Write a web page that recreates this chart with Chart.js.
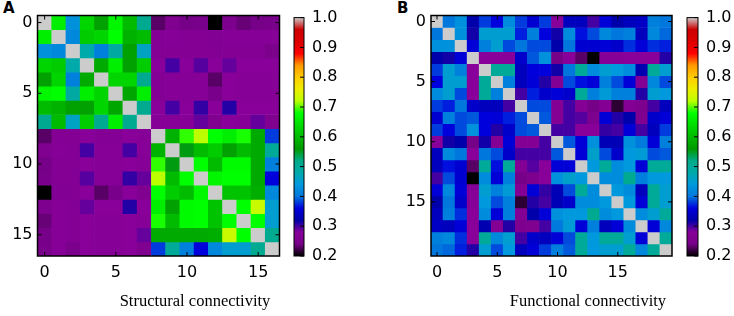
<!DOCTYPE html>
<html>
<head>
<meta charset="utf-8">
<script src="https://cdn.jsdelivr.net/npm/chart.js@4.4.1/dist/chart.umd.min.js"></script>
<style>
  body { margin: 0; background: #fff; }
  #wrap { position: relative; width: 734px; height: 316px; overflow: hidden; }
  canvas { position: absolute; top: 0; }
  .panel { position: absolute; font-family: 'DejaVu Sans', sans-serif; font-weight: bold; font-size: 15px; line-height: 1; }
  .cap { position: absolute; top: 293px; width: 300px; text-align: center; font-family: 'Liberation Serif', serif; font-size: 16.5px; line-height: 1; }
</style>
</head>
<body>
<div id="wrap">
  <div class="panel" style="left:3px;top:1px">A</div>
  <div class="panel" style="left:397px;top:1px">B</div>
  <canvas id="heatA" width="290" height="300" style="left:0px"></canvas>
  <canvas id="barA" width="70" height="300" style="left:280px"></canvas>
  <canvas id="heatB" width="290" height="300" style="left:390px"></canvas>
  <canvas id="barB" width="61" height="300" style="left:673px"></canvas>
  <div class="cap" style="left:45px">Structural connectivity</div>
  <div class="cap" style="left:438px">Functional connectivity</div>
</div>
<script>
// structural connectivity, 17 regions
const structural = [
  [1.00,0.66,0.43,0.63,0.57,0.67,0.60,0.51,0.23,0.26,0.24,0.245,0.20,0.255,0.235,0.24,0.245],
  [0.66,1.00,0.42,0.62,0.63,0.68,0.59,0.60,0.27,0.275,0.27,0.27,0.265,0.275,0.275,0.275,0.275],
  [0.43,0.42,1.00,0.48,0.41,0.49,0.57,0.46,0.27,0.27,0.27,0.27,0.27,0.27,0.27,0.27,0.25],
  [0.63,0.62,0.48,1.00,0.58,0.66,0.57,0.62,0.28,0.30,0.28,0.295,0.28,0.29,0.28,0.28,0.28],
  [0.57,0.63,0.41,0.58,1.00,0.63,0.63,0.51,0.27,0.275,0.275,0.275,0.23,0.28,0.275,0.275,0.275],
  [0.67,0.68,0.49,0.66,0.63,1.00,0.575,0.66,0.27,0.275,0.275,0.275,0.245,0.28,0.275,0.275,0.275],
  [0.60,0.59,0.57,0.57,0.63,0.575,1.00,0.51,0.28,0.30,0.28,0.305,0.28,0.31,0.28,0.28,0.28],
  [0.51,0.60,0.46,0.62,0.51,0.66,0.51,1.00,0.275,0.275,0.275,0.29,0.26,0.28,0.275,0.29,0.26],
  [0.23,0.27,0.27,0.28,0.27,0.27,0.28,0.275,1.00,0.59,0.69,0.72,0.68,0.66,0.685,0.58,0.38],
  [0.26,0.275,0.27,0.30,0.275,0.275,0.30,0.275,0.59,1.00,0.555,0.60,0.62,0.57,0.60,0.58,0.50],
  [0.24,0.27,0.27,0.28,0.275,0.275,0.28,0.275,0.69,0.555,1.00,0.68,0.60,0.675,0.675,0.58,0.41],
  [0.245,0.27,0.27,0.295,0.275,0.275,0.305,0.29,0.72,0.60,0.68,1.00,0.67,0.68,0.68,0.58,0.36],
  [0.20,0.265,0.27,0.28,0.23,0.245,0.28,0.26,0.68,0.62,0.60,0.67,1.00,0.61,0.61,0.585,0.42],
  [0.255,0.275,0.27,0.29,0.28,0.28,0.31,0.28,0.66,0.57,0.675,0.68,0.61,1.00,0.68,0.73,0.45],
  [0.235,0.275,0.27,0.28,0.275,0.275,0.28,0.275,0.685,0.60,0.675,0.68,0.61,0.68,1.00,0.68,0.45],
  [0.24,0.275,0.27,0.28,0.275,0.275,0.28,0.29,0.58,0.58,0.58,0.58,0.585,0.73,0.68,1.00,0.51],
  [0.245,0.275,0.25,0.28,0.275,0.275,0.28,0.26,0.38,0.50,0.41,0.36,0.42,0.45,0.45,0.51,1.00]
];

// functional connectivity, 20 regions
const functional = [
  [1.00,.40,.43,.32,.38,.36,.425,.38,.35,.38,.28,.335,.335,.30,.355,.32,.335,.34,.41,.40],
  [.40,1.00,.43,.315,.45,.45,.45,.37,.41,.36,.315,.425,.365,.385,.42,.40,.41,.335,.42,.395],
  [.43,.43,1.00,.355,.41,.45,.385,.40,.385,.385,.32,.40,.35,.35,.355,.345,.375,.355,.375,.37],
  [.32,.315,.355,1.00,.28,.28,.28,.345,.39,.43,.24,.28,.23,.20,.275,.275,.28,.28,.28,.31],
  [.38,.45,.41,.28,1.00,.50,.50,.335,.36,.36,.315,.40,.50,.425,.45,.44,.425,.325,.50,.45],
  [.36,.45,.45,.28,.50,1.00,.41,.335,.355,.31,.27,.385,.365,.355,.41,.385,.355,.27,.42,.385],
  [.425,.45,.385,.28,.50,.41,1.00,.30,.37,.345,.355,.345,.50,.41,.445,.41,.41,.31,.45,.44],
  [.38,.37,.40,.345,.335,.335,.30,1.00,.385,.385,.27,.30,.27,.24,.27,.215,.27,.255,.30,.335],
  [.35,.41,.385,.39,.36,.355,.37,.385,1.00,.39,.27,.30,.295,.255,.355,.31,.32,.26,.345,.355],
  [.38,.36,.385,.43,.36,.31,.345,.385,.39,1.00,.30,.30,.28,.28,.305,.30,.355,.30,.335,.38],
  [.28,.315,.32,.24,.315,.27,.355,.27,.27,.30,1.00,.39,.355,.43,.33,.33,.43,.405,.355,.41],
  [.335,.425,.40,.28,.40,.385,.345,.30,.30,.30,.39,1.00,.355,.455,.385,.345,.44,.445,.385,.39],
  [.335,.365,.35,.23,.50,.365,.50,.27,.295,.28,.355,.355,1.00,.44,.50,.425,.44,.355,.50,.50],
  [.30,.385,.35,.20,.425,.355,.41,.24,.255,.28,.43,.455,.44,1.00,.425,.425,.51,.41,.44,.44],
  [.355,.42,.355,.275,.45,.41,.445,.27,.355,.305,.33,.385,.50,.425,1.00,.44,.425,.335,.50,.45],
  [.32,.40,.345,.275,.44,.385,.41,.215,.31,.30,.33,.345,.425,.425,.44,1.00,.44,.355,.50,.45],
  [.335,.41,.375,.28,.425,.355,.41,.27,.32,.355,.43,.44,.44,.51,.425,.44,1.00,.425,.45,.50],
  [.34,.335,.355,.28,.325,.27,.31,.255,.26,.30,.405,.445,.355,.41,.335,.355,.425,1.00,.355,.42],
  [.41,.42,.375,.28,.50,.42,.45,.30,.345,.335,.355,.385,.50,.44,.50,.50,.45,.355,1.00,.50],
  [.40,.395,.37,.31,.45,.385,.44,.335,.355,.38,.41,.39,.50,.44,.45,.45,.50,.42,.50,1.00]
];

const axisTicks = [0, 5, 10, 15];
const colorbarTicks = [0.2, 0.3, 0.4, 0.5, 0.6, 0.7, 0.8, 0.9, 1.0];
const vmin = 0.2, vmax = 1.0;

// matplotlib nipy_spectral: [position, r, g, b]
const spectralStops = [
  [0.00,0.0,0.0,0.0],[0.05,0.4667,0.0,0.5333],[0.10,0.5333,0.0,0.6],[0.15,0.0,0.0,0.6667],
  [0.20,0.0,0.0,0.8667],[0.25,0.0,0.4667,0.8667],[0.30,0.0,0.6,0.8667],[0.35,0.0,0.6667,0.6667],
  [0.40,0.0,0.6667,0.5333],[0.45,0.0,0.6,0.0],[0.50,0.0,0.7333,0.0],[0.55,0.0,0.8667,0.0],
  [0.60,0.0,1.0,0.0],[0.65,0.7333,1.0,0.0],[0.70,0.9333,0.9333,0.0],[0.75,1.0,0.8,0.0],
  [0.80,1.0,0.6,0.0],[0.85,1.0,0.0,0.0],[0.90,0.8667,0.0,0.0],[0.95,0.8,0.0,0.0],[1.00,0.8,0.8,0.8]
];

function stopColor(s) {
  return 'rgb(' + Math.round(s[1] * 255) + ',' + Math.round(s[2] * 255) + ',' + Math.round(s[3] * 255) + ')';
}

function spectral(v) {
  let t = (v - vmin) / (vmax - vmin);
  t = Math.max(0, Math.min(1, t));
  for (let i = 1; i < spectralStops.length; i++) {
    const a = spectralStops[i - 1], b = spectralStops[i];
    if (t <= b[0]) {
      const f = (t - a[0]) / (b[0] - a[0]);
      return stopColor([0, a[1] + (b[1] - a[1]) * f, a[2] + (b[2] - a[2]) * f, a[3] + (b[3] - a[3]) * f]);
    }
  }
  return stopColor(spectralStops[spectralStops.length - 1]);
}

Chart.defaults.font.family = "'DejaVu Sans', sans-serif";
Chart.defaults.font.size = 16;
Chart.defaults.color = '#000';

// black frame and inward ticks, matplotlib style
const framePlugin = {
  id: 'frame',
  afterDraw(chart, args, opts) {
    const {ctx, chartArea: a, scales} = chart;
    ctx.save();
    ctx.strokeStyle = '#000';
    ctx.lineWidth = 1;
    const len = 4;
    if (opts.xTicks) {
      scales.x.ticks.forEach((t, i) => {
        const x = scales.x.getPixelForTick(i);
        ctx.beginPath();
        ctx.moveTo(x, a.bottom); ctx.lineTo(x, a.bottom - len);
        ctx.moveTo(x, a.top); ctx.lineTo(x, a.top + len);
        ctx.stroke();
      });
    }
    scales.y.ticks.forEach(t => {
      const y = scales.y.getPixelForValue(t.value);
      ctx.beginPath();
      if (opts.leftTicks) { ctx.moveTo(a.left, y); ctx.lineTo(a.left + len, y); }
      ctx.moveTo(a.right, y); ctx.lineTo(a.right - len, y);
      ctx.stroke();
    });
    ctx.lineWidth = opts.lineWidth || 1.5;
    ctx.strokeRect(a.left, a.top, a.right - a.left, a.bottom - a.top);
    ctx.restore();
  }
};

function heatmap(id, rows, yAxisWidth, padRight) {
  const n = rows.length;
  const labels = rows.map((r, i) => String(i));
  const datasets = rows.map(row => ({
    data: row.map(() => 1),
    backgroundColor: row.map(v => spectral(v)),
    borderWidth: 0,
    barPercentage: 1,
    categoryPercentage: 1
  }));
  return new Chart(document.getElementById(id), {
    type: 'bar',
    data: {labels: labels, datasets: datasets},
    plugins: [framePlugin],
    options: {
      responsive: false,
      animation: false,
      layout: {padding: {top: 15.5, right: padRight, bottom: 0, left: 0}},
      scales: {
        x: {
          stacked: true,
          grid: {display: false, drawTicks: false},
          border: {display: false},
          ticks: {autoSkip: false, maxRotation: 0, padding: 7},
          afterBuildTicks: s => { s.ticks = axisTicks.map(v => ({value: v})); },
          afterFit: s => { s.height = 44; }
        },
        y: {
          stacked: true,
          reverse: true,
          min: 0,
          max: n,
          grid: {display: false, drawTicks: false},
          border: {display: false},
          ticks: {padding: 5, callback: v => v - 0.5},
          afterBuildTicks: s => { s.ticks = axisTicks.map(v => ({value: v + 0.5})); },
          afterFit: s => { s.width = yAxisWidth; }
        }
      },
      plugins: {
        legend: {display: false},
        tooltip: {enabled: false},
        frame: {xTicks: true, leftTicks: true, lineWidth: 1.5}
      }
    }
  });
}

function colorbar(id, padLeft, axisWidth) {
  return new Chart(document.getElementById(id), {
    type: 'bar',
    data: {
      labels: [''],
      datasets: [{
        data: [[vmin, vmax]],
        backgroundColor: c => {
          const area = c.chart.chartArea;
          if (!area) return '#888';
          const g = c.chart.ctx.createLinearGradient(0, area.bottom, 0, area.top);
          spectralStops.forEach(s => g.addColorStop(s[0], stopColor(s)));
          return g;
        },
        borderWidth: 0,
        barPercentage: 1,
        categoryPercentage: 1
      }]
    },
    plugins: [framePlugin],
    options: {
      responsive: false,
      animation: false,
      layout: {padding: {top: 15.5, right: 0, bottom: 44, left: padLeft}},
      scales: {
        x: {display: false},
        y: {
          position: 'right',
          min: vmin,
          max: vmax,
          grid: {display: false, drawTicks: false},
          border: {display: false},
          ticks: {padding: 8, callback: v => v.toFixed(1)},
          afterBuildTicks: s => { s.ticks = colorbarTicks.map(v => ({value: v})); },
          afterFit: s => { s.width = axisWidth; }
        }
      },
      plugins: {
        legend: {display: false},
        tooltip: {enabled: false},
        frame: {xTicks: false, leftTicks: false, lineWidth: 1}
      }
    }
  });
}

heatmap('heatA', structural, 37.5, 10.5);
colorbar('barA', 14, 46);
heatmap('heatB', functional, 41, 8);
colorbar('barB', 14, 36);
</script>
</body>
</html>
